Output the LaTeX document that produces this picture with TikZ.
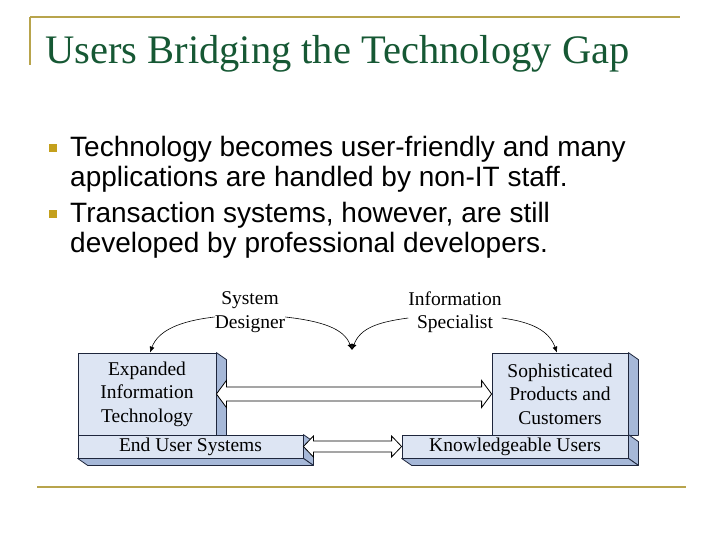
\documentclass[tikz,border=0pt]{standalone}
\usepackage{fontspec}
\setmainfont{Liberation Serif}
\newfontfamily\bulletfont{Liberation Sans}
\usetikzlibrary{arrows.meta, calc}

\definecolor{titlegreen}{RGB}{22,88,52}
\definecolor{rulegold}{RGB}{184,164,76}
\definecolor{bulletgold}{RGB}{196,160,28}
\definecolor{faceblue}{RGB}{221,229,243}
\definecolor{sideblue}{RGB}{166,184,216}
\definecolor{edgenavy}{RGB}{30,38,60}

\tikzset{
  front/.style={draw=edgenavy, fill=faceblue, line width=0.8pt, inner sep=0pt,
    align=center, font=\fontsize{19.5}{23.5}\selectfont},
  side/.style={draw=edgenavy, fill=sideblue, line width=0.8pt, line join=round},
  blockarrow/.style={draw=black, fill=white, line width=0.8pt, line join=miter},
  curvearrow/.style={-{Latex[length=6pt, width=5pt]}, line width=0.6pt},
  label/.style={inner sep=0pt, align=center, font=\fontsize{19.5}{23.5}\selectfont}
}

\begin{document}
\begin{tikzpicture}[x=1pt, y=-1pt]

\def\dx{10}
\def\dy{7}

\useasboundingbox (0,0) rectangle (720,540);

% slide frame
\draw[rulegold, line width=2pt] (30,17.5) -- (680,17.5);
\draw[rulegold, line width=2pt] (30,17.5) -- (30,65);
\draw[rulegold, line width=2.5pt] (37,487) -- (686,487);

\node[anchor=base west, inner sep=0pt, titlegreen, font=\fontsize{40.5}{48}\selectfont]
  (title) at (45,64) {Users Bridging the Technology Gap};

% bullets
\node[fill=bulletgold, minimum size=8pt, inner sep=0pt] (b1) at (53,148) {};
\node[fill=bulletgold, minimum size=8pt, inner sep=0pt] (b2) at (53,214) {};
\node[anchor=north west, inner sep=0pt, align=left, font=\bulletfont\fontsize{28}{30}\selectfont]
  (t1) at (70,136) {Technology becomes user-friendly and many\\applications are handled by non-IT staff.};
\node[anchor=north west, inner sep=0pt, align=left, font=\bulletfont\fontsize{28}{30}\selectfont]
  (t2) at (70,202) {Transaction systems, however, are still\\developed by professional developers.};

% boxes
\node[front, minimum width=138pt, minimum height=82pt] (eit) at (147,394) {Expanded\\Information\\Technology};
\node[front, minimum width=225pt, minimum height=23pt] (eus) at (190.5,446.5) {\raisebox{-2pt}{End User Systems}};
\node[front, minimum width=136pt, minimum height=82pt] (spc) at (560,394) {Sophisticated\\Products and\\Customers};
\node[front, minimum width=226pt, minimum height=23pt] (ku) at (515,446.5) {\raisebox{-2pt}{Knowledgeable Users}};

\draw[side] (eit.north east) -- ++(\dx,\dy) -- ($(eit.south east)+(\dx,0)$) -- (eit.south east) -- cycle;
\draw[side] (eus.north east) -- ++(\dx,\dy) -- ($(eus.south east)+(\dx,\dy)$) -- (eus.south east) -- cycle;
\draw[side] (eus.south west) -- ++(\dx,\dy) -- ($(eus.south east)+(\dx,\dy)$) -- (eus.south east) -- cycle;
\draw[side] (spc.north east) -- ++(\dx,\dy) -- ($(spc.south east)+(\dx,0)$) -- (spc.south east) -- cycle;
\draw[side] (ku.north east) -- ++(\dx,\dy) -- ($(ku.south east)+(\dx,\dy)$) -- (ku.south east) -- cycle;
\draw[side] (ku.south west) -- ++(\dx,\dy) -- ($(ku.south east)+(\dx,\dy)$) -- (ku.south east) -- cycle;

% block arrows
\draw[blockarrow] (eit.east) -- ++(10,-13.5) -- ++(0,6.5) -- ($(spc.west)+(-10,-7)$) -- ++(0,-6.5)
  -- (spc.west) -- ++(-10,13.5) -- ++(0,-6.5) -- ($(eit.east)+(10,7)$) -- ++(0,6.5) -- cycle;
\draw[blockarrow] (eus.east) -- ++(10,-10.5) -- ++(0,5) -- ($(ku.west)+(-10,-5.5)$) -- ++(0,-5)
  -- (ku.west) -- ++(-10,10.5) -- ++(0,-5) -- ($(eus.east)+(10,5.5)$) -- ++(0,5) -- cycle;

% roles
\node[label] (sd) at (250,312) {System\\Designer};
\node[label] (is) at (455,312) {Information\\Specialist};
\coordinate (mid) at (352,350);

\draw[curvearrow] ([yshift=-5pt]sd.west) .. controls +(-35,4) and +(8,-22) .. ([xshift=3pt]eit.north);
\draw[curvearrow] ([yshift=-5pt]sd.east) .. controls +(35,4) and +(-8,-22) .. (mid);
\draw[curvearrow] ([yshift=-6pt]is.west) .. controls +(-30,4) and +(8,-22) .. (mid);
\draw[curvearrow] ([yshift=-6pt]is.east) .. controls +(30,4) and +(-8,-22) .. ([xshift=-3pt]spc.north);

\end{tikzpicture}
\end{document}
